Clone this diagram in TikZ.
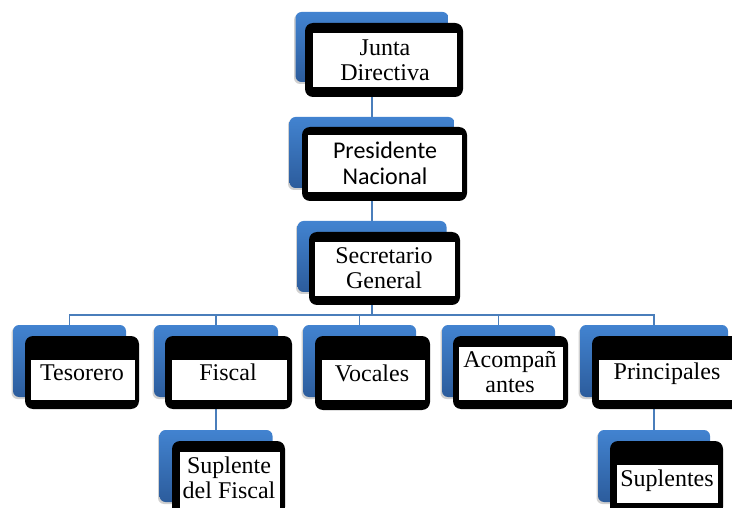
\documentclass[tikz,border=0pt]{standalone}
\usepackage{fontspec}
\setmainfont{Liberation Serif}
\newfontfamily\calibrifont{Carlito}
\usetikzlibrary{shadows}
\definecolor{blueT}{HTML}{4283D0}
\definecolor{blueB}{HTML}{2C5C9C}
\definecolor{linkc}{HTML}{4A7EBB}
\tikzset{
  backbox/.style={rectangle, rounded corners=6pt, top color=blueT, bottom color=blueB,
    draw=none, inner sep=0pt, outer sep=0pt,
    drop shadow={shadow xshift=-1.5pt, shadow yshift=-2pt, opacity=0.3, fill=black!60}},
  frontbox/.style={rectangle, rounded corners=8pt, fill=black, inner sep=0pt, outer sep=0pt},
  whitebox/.style={rectangle, fill=white, inner sep=0pt, outer sep=0pt},
  lbl/.style={font=\fontsize{24}{25}\selectfont, align=center, inner sep=0pt},
  link/.style={draw=linkc, line width=1.3pt},
}
\begin{document}
\begin{tikzpicture}[x=1pt,y=-1pt]
\clip (0,0) rectangle (732,508);
\fill[white] (0,0) rectangle (732,508);
% back boxes
\node[backbox, minimum width=153pt, minimum height=70pt] (jb) at (372,47) {};
\node[backbox, minimum width=165pt, minimum height=71pt] (pb) at (372,152.5) {};
\node[backbox, minimum width=149pt, minimum height=71pt] (sb) at (372,256.5) {};
\node[backbox, minimum width=113pt, minimum height=72pt] (tb) at (69.5,361) {};
\node[backbox, minimum width=124pt, minimum height=72pt] (fb) at (216,361) {};
\node[backbox, minimum width=113pt, minimum height=72pt] (vb) at (359.5,361) {};
\node[backbox, minimum width=113pt, minimum height=72pt] (ab) at (498.5,361) {};
\node[backbox, minimum width=148pt, minimum height=72pt] (prb) at (654,361) {};
\node[backbox, minimum width=113pt, minimum height=72pt] (sfb) at (216,466) {};
\node[backbox, minimum width=112pt, minimum height=72pt] (spb) at (654,466) {};
% connectors
\coordinate (bus) at (0,315);
\draw[link] (jb) -- (pb);
\draw[link] (pb) -- (sb);
\foreach \c in {tb,fb,vb,ab,prb}{
  \draw[link] (sb.south) -- (sb.south |- bus) -| (\c.north);
}
\draw[link] (fb) -- (sfb);
\draw[link] (prb) -- (spb);
% front boxes
\node[frontbox, minimum width=158pt, minimum height=74pt] (jf) at (384,60) {};
\node[frontbox, minimum width=165pt, minimum height=74pt] (pf) at (384.5,164) {};
\node[frontbox, minimum width=151pt, minimum height=73pt] (sf) at (384.5,268.5) {};
\node[frontbox, minimum width=114pt, minimum height=73pt] (tf) at (82,372.5) {};
\node[frontbox, minimum width=127pt, minimum height=73pt] (ff) at (228.5,372.5) {};
\node[frontbox, minimum width=115pt, minimum height=74pt] (vf) at (372.5,373) {};
\node[frontbox, minimum width=115pt, minimum height=73pt] (af) at (510.5,372.5) {};
\node[frontbox, minimum width=150pt, minimum height=73pt] (prf) at (667,372.5) {};
\node[frontbox, minimum width=113pt, minimum height=74pt] (sff) at (228.5,478) {};
\node[frontbox, minimum width=113pt, minimum height=74pt] (spf) at (666.5,478) {};
% white panels
\node[whitebox, minimum width=144pt, minimum height=54pt] (jw) at (385,60) {};
\node[whitebox, minimum width=154pt, minimum height=57pt] (pw) at (385,163.5) {};
\node[whitebox, minimum width=140pt, minimum height=54pt] (sw) at (385,269) {};
\node[whitebox, minimum width=104pt, minimum height=40pt] (tw) at (83,380) {};
\node[whitebox, minimum width=115pt, minimum height=40pt] (fw) at (229.5,380) {};
\node[whitebox, minimum width=103pt, minimum height=40pt] (vw) at (373.5,380) {};
\node[whitebox, minimum width=104pt, minimum height=53pt] (aw) at (511,373.5) {};
\node[whitebox, minimum width=138pt, minimum height=40pt] (prw) at (668,380) {};
\node[whitebox, minimum width=100pt, minimum height=60pt] (sfw) at (230,482) {};
\node[whitebox, minimum width=101pt, minimum height=38pt] (spw) at (667.5,484) {};
% texts
\node[lbl] (jtx) at (385,60) {Junta\\Directiva};
\node[lbl, font=\calibrifont\fontsize{24}{26}\selectfont] (ptx) at (385,163) {Presidente\\Nacional};
\node[lbl] (stx) at (384,268) {Secretario\\General};
\node[lbl] (ttx) at (82,373) {Tesorero};
\node[lbl] (ftx) at (228,372) {Fiscal};
\node[lbl] (vtx) at (372,373) {Vocales};
\node[lbl] (atx) at (510,372.5) {Acompañ\\antes};
\node[lbl] (prtx) at (667,374) {Principales};
\node[lbl] (sftx) at (229,477.5) {Suplente\\del Fiscal};
\node[lbl] (sptx) at (667,481) {Suplentes};
\end{tikzpicture}
\end{document}
